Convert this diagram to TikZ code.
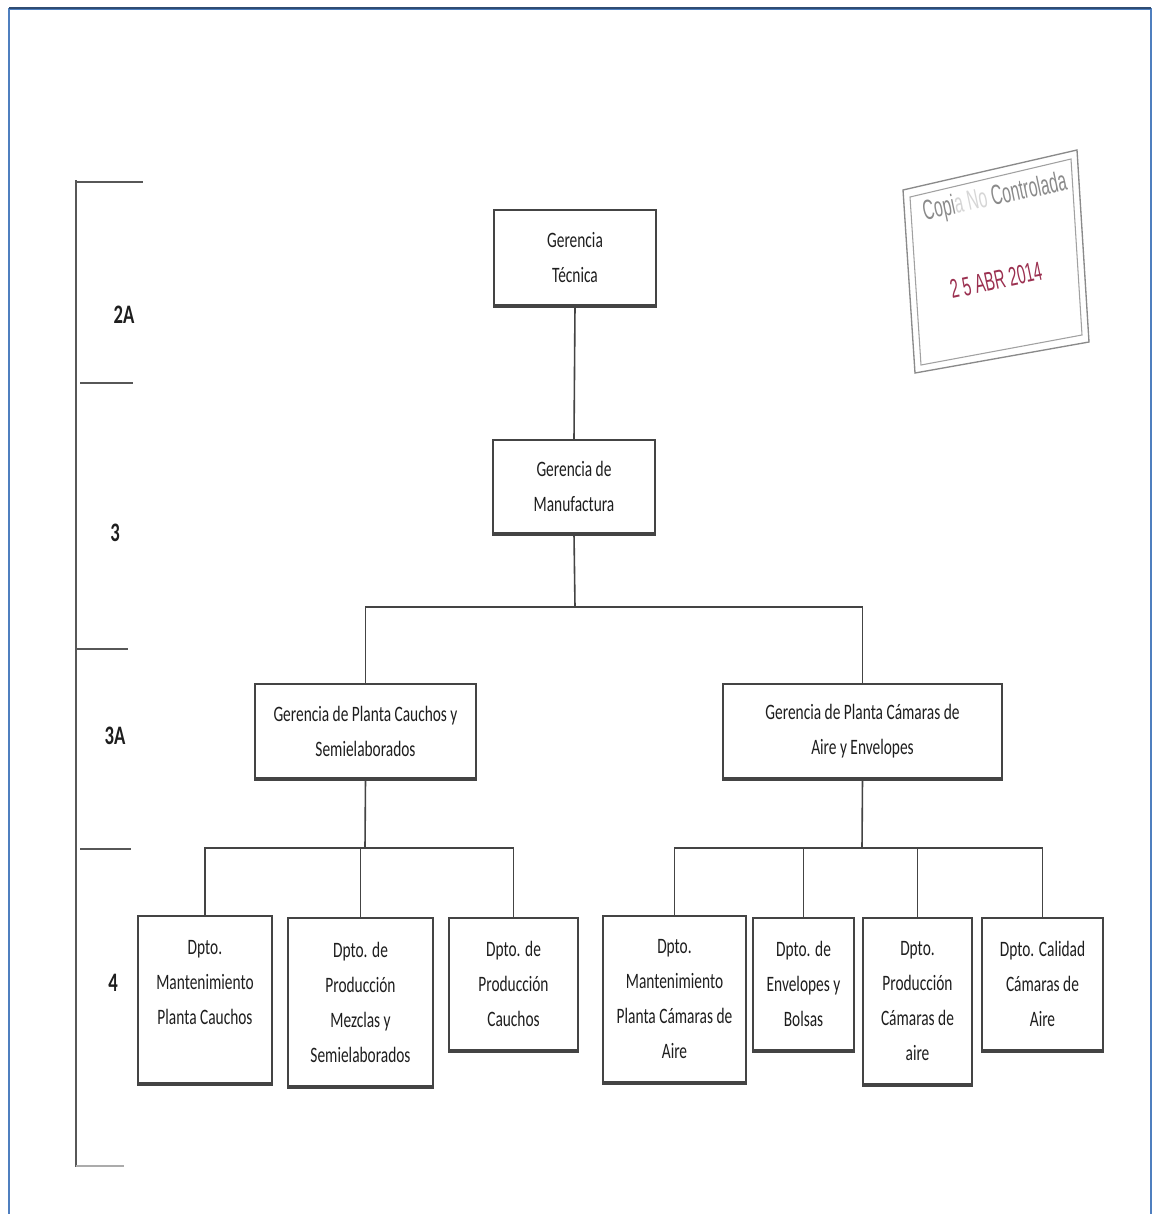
\documentclass[tikz,border=0pt]{standalone}
\usepackage{fontspec}
\setmainfont{Carlito}
\newfontfamily\condfont[FakeStretch=0.70]{Carlito}
\newfontfamily\stampfont[FakeStretch=0.56]{Liberation Sans}
\definecolor{boxc}{HTML}{444444}
\definecolor{txt}{HTML}{1E1E1E}
\definecolor{framec}{HTML}{4F7FBF}
\definecolor{stampc}{HTML}{8A8A8A}
\definecolor{datec}{HTML}{9B3050}
\newcommand{\boxfont}{\condfont\fontsize{16.5}{26.25}\selectfont}
\newcommand{\lvlfont}{\condfont\bfseries\fontsize{20}{22}\selectfont}
\begin{document}
\begin{tikzpicture}[x=0.75pt,y=-0.75pt,
  orgbox/.style={draw=boxc, line width=1.3pt, fill=white, align=center,
    font=\boxfont, text=txt, inner sep=2pt},
  conn/.style={draw=boxc, line width=1.2pt},
  scaleline/.style={draw=boxc!90, line width=1.4pt},
  lvl/.style={font=\lvlfont, text=txt, inner sep=0pt}]
\useasboundingbox (0,0) rectangle (1153,1214);
\fill[white] (0,0) rectangle (1153,1214);
% frame
\draw[framec, line width=1.6pt] (9,1214) -- (9,9) -- (1151,9) -- (1151,1214);
\draw[framec!60!black, line width=0.8pt] (9,8) -- (1151,8);

% level scale
\draw[scaleline] (76,180) -- (76,1167);
\draw[scaleline] (76,182) -- (143,182);
\draw[scaleline] (80,383) -- (133,383);
\draw[scaleline] (76,649) -- (128,649);
\draw[scaleline] (80,849) -- (131,849);
\draw[scaleline, draw=boxc!45] (76,1166) -- (124,1166);
\node[lvl] (l2a) at (124,315) {2A};
\node[lvl] (l3) at (115,533) {3};
\node[lvl] (l3a) at (115,736) {3A};
\node[lvl] (l4) at (113,983) {4};

% boxes
\node[orgbox, minimum width=121.5pt, minimum height=71.25pt] (gt) at (575,257.5) {Gerencia\\Técnica};
\node[orgbox, minimum width=121.5pt, minimum height=69.75pt] (gm) at (574,486.5) {Gerencia de\\Manufactura};
\node[orgbox, minimum width=165.75pt, minimum height=70.5pt] (gp1) at (365.5,731) {Gerencia de Planta Cauchos y\\Semielaborados};
\node[orgbox, minimum width=209.25pt, minimum height=70.5pt] (gp2) at (862.5,731) {Gerencia de Planta Cámaras de\\Aire y Envelopes};

\node[orgbox, minimum width=100.5pt, minimum height=125.25pt] (b1) at (205,999.5) {Dpto.\\Mantenimiento\\Planta Cauchos\\\mbox{}};
\node[orgbox, minimum width=108.75pt, minimum height=126pt] (b2) at (360.5,1002) {Dpto. de\\Producción\\Mezclas y\\Semielaborados};
\node[orgbox, minimum width=96.75pt, minimum height=99pt] (b3) at (513.5,984) {Dpto. de\\Producción\\Cauchos};
\node[orgbox, minimum width=107.25pt, minimum height=124.5pt] (b4) at (674.5,999) {Dpto.\\Mantenimiento\\Planta Cámaras de\\Aire};
\node[orgbox, minimum width=75.75pt, minimum height=99pt] (b5) at (803.5,984) {Dpto. de\\Envelopes y\\Bolsas};
\node[orgbox, minimum width=81.75pt, minimum height=124.5pt] (b6) at (917.5,1001) {Dpto.\\Producción\\Cámaras de\\aire};
\node[orgbox, minimum width=90.75pt, minimum height=99pt] (b7) at (1042.5,984) {Dpto. Calidad\\Cámaras de\\Aire};

% heavier bottom edges
\foreach \b in {gt,gm,gp1,gp2,b1,b2,b3,b4,b5,b6,b7}
  \draw[boxc, line width=2.2pt] ([yshift=-0.4pt]\b.south west) -- ([yshift=-0.4pt]\b.south east);

% connectors
\coordinate (j1) at (575,607);
\coordinate (j2) at (365,848);
\coordinate (j3) at (862,848);
\draw[conn] (gt.south) -- (gm.north);
\draw[conn] (gm.south) -- (j1);
\draw[conn] (gp1.north) |- (j1);
\draw[conn] (gp2.north) |- (j1);
\draw[conn] (gp1.south) -- (j2);
\draw[conn] (gp2.south) -- (j3);
\foreach \b in {b1,b2,b3} \draw[conn] (\b.north) |- (j2);
\foreach \b in {b4,b5,b6,b7} \draw[conn] (\b.north) |- (j3);

% stamp
\draw[stampc, line width=1pt] (903,190) -- (1077,150) -- (1089,342) -- (915,373) -- cycle;
\draw[stampc!80, line width=0.8pt] (910,197) -- (1071,159) -- (1082,335) -- (921,365) -- cycle;
\node[text=stampc, font=\stampfont\fontsize{21}{22}\selectfont, rotate=12, inner sep=0pt] (stamp1) at (995,198) {Copi\textcolor{stampc!35}{a No} Controlada};
\node[text=datec, font=\stampfont\fontsize{20}{22}\selectfont, rotate=12, inner sep=0pt] (stamp2) at (996,280) {2 5 ABR 2014};
\end{tikzpicture}
\end{document}
